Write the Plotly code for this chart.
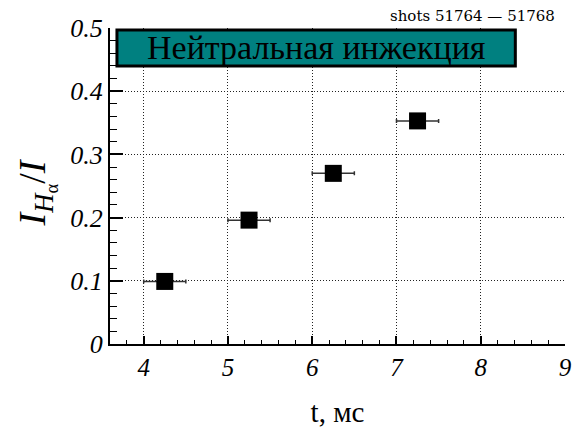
import plotly.graph_objects as go

t_ms = [4.25, 5.25, 6.25, 7.25]
ratio = [0.099, 0.196, 0.270, 0.353]
t_err = [0.25, 0.25, 0.25, 0.25]

x_ticks = [4, 5, 6, 7, 8, 9]
x_tick_labels = ["4", "5", "6", "7", "8", "9"]
y_ticks = [0, 0.1, 0.2, 0.3, 0.4, 0.5]
y_tick_labels = ["0", "0.1", "0.2", "0.3", "0.4", "0.5"]

title_text = "Нейтральная инжекция"
shots_text = "shots 51764 — 51768"

FONT = "Liberation Serif, Times New Roman, DejaVu Serif, serif"

fig = go.Figure()
fig.add_trace(go.Scatter(
    x=t_ms, y=ratio, mode="markers",
    marker=dict(symbol="square", size=17, color="black"),
    error_x=dict(type="data", array=t_err, visible=True, color="#333333",
                 thickness=1.5, width=2),
    showlegend=False,
))

fig.update_layout(
    width=584, height=435,
    margin=dict(l=110, r=16, t=28, b=87),
    paper_bgcolor="white", plot_bgcolor="white",
    font=dict(family=FONT, color="black"),
    xaxis=dict(
        range=[3.6, 9], tickvals=x_ticks,
        ticktext=["<i>%s</i>" % s for s in x_tick_labels],
        ticks="inside", ticklen=8, tickwidth=1.5,
        tickcolor="black", showline=True, linewidth=2, linecolor="black",
        showgrid=True, gridcolor="#222222", griddash="1px,2px", gridwidth=1,
        zeroline=False,
        tickfont=dict(family=FONT, size=25, color="black"),
        minor=dict(dtick=0.2, ticks="inside", ticklen=4, tickcolor="black",
                   tickwidth=1, showgrid=False),
        title=dict(text="t, мс", font=dict(family=FONT, size=29), standoff=22),
    ),
    yaxis=dict(
        range=[0, 0.5], tickvals=y_ticks,
        ticktext=["<i>%s</i>" % s for s in y_tick_labels], ticks="inside",
        ticklen=13, tickwidth=1.5, tickcolor="black",
        showline=True, linewidth=2, linecolor="black",
        showgrid=True, gridcolor="#222222", griddash="1px,2px", gridwidth=1,
        zeroline=False,
        tickfont=dict(family=FONT, size=26, color="black"),
        minor=dict(dtick=0.02, ticks="inside", ticklen=7, tickcolor="black",
                   tickwidth=1, showgrid=False),
    ),
)

fig.add_shape(type="rect", xref="paper", yref="paper",
              x0=(117 - 110) / 458, x1=(518 - 110) / 458,
              y0=1 - (66.5 - 28) / 320, y1=1 - (30 - 28) / 320,
              fillcolor="#008080", line=dict(color="black", width=3), layer="above")

fig.add_annotation(xref="paper", yref="paper",
                   x=((117 + 518) / 2 - 110) / 458, y=1 - (48 - 28) / 320,
                   text=title_text, showarrow=False, xanchor="center", yanchor="middle",
                   font=dict(family=FONT, size=34, color="black"))

fig.add_annotation(xref="paper", yref="paper",
                   x=(560 - 110) / 458, y=1 - (27 - 28) / 320,
                   text=shots_text, showarrow=False, xanchor="right", yanchor="bottom",
                   font=dict(family="DejaVu Serif, serif", size=15, color="black"))

fig.add_annotation(xref="paper", yref="paper",
                   x=(36 - 110) / 458, y=1 - (194 - 28) / 320,
                   text="<i>I</i><sub><i>H</i><sub>α</sub></sub>/<i>I</i>",
                   textangle=-90, showarrow=False, xanchor="center", yanchor="middle",
                   font=dict(family=FONT, size=38, color="black"))

fig.write_html("out.html")
